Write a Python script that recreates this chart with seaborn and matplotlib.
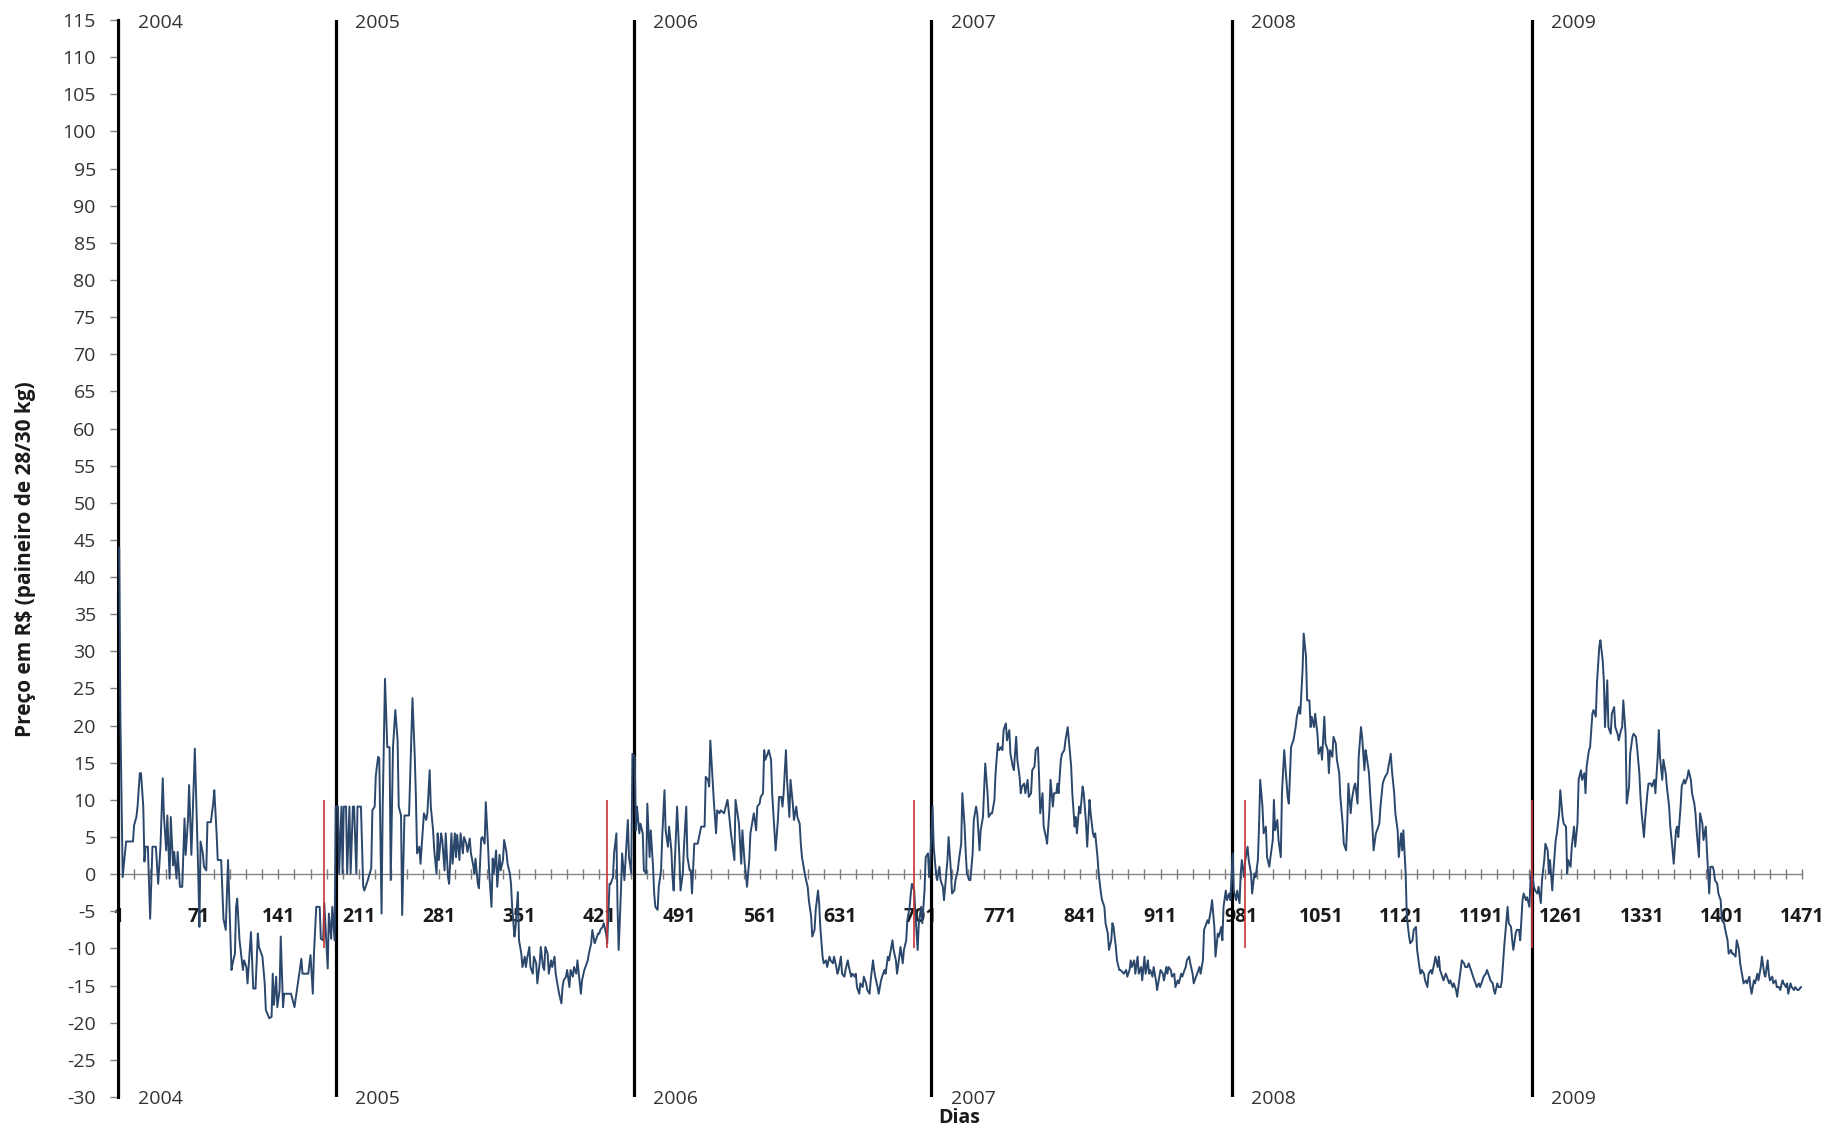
import matplotlib
matplotlib.use("Agg")
import matplotlib.pyplot as plt
import numpy as np
import pandas as pd
import seaborn as sns

# Preço diário (R$ por paineiro de 28/30 kg), pares (dia, preço) por ano
serie_2004 = [
    (2, 44.0), (3, 21.0), (5, -0.4), (8, 4.4), (11, 4.4), (14, 4.4), (15, 6.6), (17, 7.7), (18, 9.1),
    (20, 13.6), (21, 13.6), (23, 9.1), (24, 1.7), (25, 3.7), (27, 3.7), (29, -6.0), (31, 3.7), (34, 3.7),
    (36, -1.3), (38, 3.7), (40, 12.9), (41, 7.9), (43, 3.2), (44, 7.9), (46, -0.6), (47, 7.7), (49, 1.2),
    (50, 3.0), (52, -0.6), (53, 3.0), (55, -1.7), (57, -1.7), (59, 7.5), (60, 2.6), (62, 7.3), (63, 12.0),
    (65, 2.6), (66, 7.3), (68, 16.9), (71, 0.1), (72, -7.1), (73, 4.4), (75, 2.8), (76, 1.0), (78, 0.5),
    (79, 7.0), (82, 7.0), (84, 9.5), (85, 11.3), (87, 5.5), (88, 1.9), (91, 1.9), (93, -6.0), (95, -7.5),
    (97, 1.9), (100, -12.9), (101, -12.0), (103, -10.7), (104, -4.4), (105, -3.3), (107, -8.9), (108, -10.2),
    (110, -12.9), (111, -11.6), (113, -12.5), (114, -14.7), (117, -7.8), (119, -15.4), (121, -15.4),
    (123, -8.0), (124, -9.8), (127, -11.1), (129, -14.7), (130, -18.3), (133, -19.4), (135, -19.2),
    (136, -13.4), (137, -17.6), (139, -13.8), (140, -17.9), (142, -15.6), (143, -8.4), (145, -17.9),
    (146, -16.1), (152, -16.1), (155, -17.9), (158, -14.7), (161, -11.4), (162, -13.4), (167, -13.4),
    (169, -10.9), (171, -16.1), (172, -10.7), (174, -4.4), (177, -4.4), (178, -8.7), (180, -8.9),
    (181, -3.9), (184, -12.7), (185, -5.3), (187, -8.7), (188, -4.4), (190, -8.9),
]
serie_2005 = [
    (191, 9.1), (193, 9.1), (194, 0.1), (196, 9.1), (197, 0.1), (198, 9.1), (200, 9.1), (201, 0.1),
    (203, 9.1), (204, 0.1), (206, 9.1), (207, 9.1), (209, 0.1), (210, 9.1), (212, 9.1), (213, 9.1),
    (215, -1.7), (216, -2.2), (219, -0.8), (222, 0.8), (223, 8.6), (225, 9.1), (226, 13.3), (228, 15.8),
    (229, 15.6), (231, -5.3), (232, 9.1), (234, 26.3), (236, 17.1), (238, 17.1), (239, -0.8), (241, 17.1),
    (243, 22.1), (245, 18.0), (246, 9.1), (248, 7.9), (249, -5.5), (251, 7.9), (255, 7.9), (258, 23.7),
    (260, 15.8), (261, 10.4), (262, 2.8), (264, 3.7), (265, 1.4), (268, 8.2), (270, 7.3), (271, 8.2),
    (273, 14.0), (274, 9.1), (276, 5.9), (277, 3.2), (279, 0.1), (280, 5.5), (281, 1.9), (283, 5.5),
    (284, 4.6), (286, 0.5), (287, 5.5), (289, -0.4), (290, -1.3), (292, 5.5), (293, 1.4), (295, 5.5),
    (296, 2.3), (297, 5.3), (299, 1.9), (300, 5.5), (302, 2.8), (303, 5.0), (305, 4.1), (306, 3.0),
    (308, 4.8), (309, 2.8), (311, 1.2), (312, 0.1), (313, 2.1), (315, -1.3), (316, -1.9), (318, 4.8),
    (319, 5.0), (321, 4.1), (322, 9.7), (324, 3.7), (325, 0.1), (327, -4.4), (328, 2.1), (329, 0.1),
    (331, 3.2), (332, -1.7), (334, 2.6), (335, 0.5), (337, 1.9), (338, 4.6), (340, 3.0), (341, 1.4),
    (343, 0.1), (344, -1.3), (345, -4.4), (347, -8.4), (348, -7.1), (350, -2.4), (351, -8.9), (353, -10.7),
    (354, -12.5), (356, -11.1), (357, -12.5), (358, -11.4), (360, -9.8), (361, -12.5), (363, -13.4),
    (364, -11.1), (366, -12.0), (367, -14.7), (369, -12.0), (370, -9.8), (372, -12.5), (373, -12.9),
    (374, -9.8), (376, -10.7), (377, -13.4), (379, -11.6), (380, -12.5), (382, -11.1), (383, -13.4),
    (385, -15.2), (386, -16.1), (388, -17.4), (389, -15.2), (390, -14.3), (392, -13.8), (393, -12.9),
    (395, -15.2), (396, -12.9), (398, -13.8), (399, -12.5), (401, -13.4), (402, -11.6), (404, -14.7),
    (405, -16.1), (406, -14.3), (408, -12.9), (409, -12.5), (411, -11.6), (412, -10.7), (414, -9.3),
    (415, -7.5), (417, -9.3), (418, -8.9), (420, -8.0), (421, -8.0), (422, -7.5), (424, -7.1), (425, -6.6),
    (427, -8.0), (428, -9.3), (430, -1.3), (431, -1.3), (433, -0.4), (434, 2.8), (436, 5.5), (437, -4.4),
    (438, -10.2), (440, -2.2), (441, 2.8), (443, -0.8), (444, 1.9), (446, 7.3), (447, 2.3), (449, 0.1),
]
serie_2006 = [
    (450, 16.2), (452, 15.8), (453, 5.9), (454, 9.1), (456, 5.5), (457, 6.8), (459, 5.5), (460, 0.5),
    (462, 0.1), (463, 9.5), (465, 2.3), (466, 5.9), (468, 1.0), (469, -2.6), (470, -4.4), (472, -4.8),
    (473, -1.7), (475, 0.5), (476, 5.0), (478, 11.3), (479, 5.9), (481, 3.7), (482, 6.4), (484, 3.2),
    (485, -0.4), (486, -2.2), (488, 5.5), (489, 9.1), (491, 2.3), (492, -2.2), (494, 0.1), (495, 3.7),
    (497, 9.1), (498, 2.3), (500, 0.5), (501, 0.5), (502, -2.6), (504, 4.1), (505, 4.1), (507, 4.1),
    (510, 6.4), (513, 6.4), (514, 13.1), (516, 12.7), (517, 11.8), (518, 18.0), (520, 12.7), (521, 10.0),
    (523, 5.5), (524, 8.6), (526, 8.2), (527, 8.6), (530, 8.2), (533, 10.0), (534, 8.6), (536, 5.5),
    (539, 1.9), (540, 10.0), (543, 6.8), (545, 1.4), (546, 5.9), (548, 1.4), (549, 0.1), (550, -1.7),
    (552, 1.9), (553, 5.5), (555, 7.3), (556, 8.2), (558, 5.9), (559, 9.1), (561, 9.5), (562, 10.4),
    (564, 10.9), (565, 16.7), (566, 15.4), (568, 16.2), (569, 16.7), (571, 15.4), (572, 10.9), (574, 5.9),
    (575, 3.2), (577, 7.3), (578, 10.4), (580, 10.4), (581, 9.1), (582, 10.9), (584, 16.7), (585, 12.7),
    (587, 7.7), (588, 12.7), (590, 9.5), (591, 7.3), (593, 9.1), (594, 7.7), (596, 6.8), (597, 4.1),
    (598, 2.3), (600, 0.5), (601, -0.4), (603, -1.7), (604, -3.5), (606, -5.7), (607, -8.4), (609, -7.5),
    (610, -4.8), (612, -2.2), (613, -3.9), (614, -7.1), (616, -11.1), (617, -12.0), (619, -11.6),
    (620, -12.5), (622, -11.1), (623, -11.6), (625, -12.0), (626, -11.1), (628, -12.5), (629, -13.4),
    (630, -12.9), (632, -11.1), (633, -13.4), (635, -13.8), (636, -12.9), (638, -11.6), (639, -12.5),
    (641, -13.8), (642, -13.4), (644, -13.8), (645, -13.4), (646, -15.2), (648, -16.1), (649, -14.7),
    (651, -15.2), (652, -13.8), (654, -14.7), (655, -15.6), (657, -16.1), (658, -14.3), (660, -11.6),
    (661, -12.9), (662, -13.8), (664, -15.2), (665, -16.1), (667, -14.3), (668, -13.8), (670, -12.9),
    (671, -13.4), (673, -11.1), (674, -11.6), (676, -9.8), (677, -8.9), (678, -10.2), (680, -11.6),
    (681, -13.4), (683, -11.1), (684, -9.8), (686, -12.0), (687, -10.2), (689, -8.9), (690, -6.2),
    (692, -4.4), (693, -2.6), (694, -1.3), (696, -2.2), (697, -5.3), (699, -10.2), (700, -6.6),
    (702, -4.4), (703, -6.6), (705, -2.2), (706, 2.3), (708, 2.8), (709, -0.4), (710, 1.9),
]
serie_2007 = [
    (712, 9.1), (713, 3.7), (715, 0.1), (716, -0.8), (718, 1.0), (719, -0.8), (721, -1.7), (722, -3.5),
    (724, 0.1), (725, 1.9), (726, 5.0), (728, 0.5), (729, -2.6), (731, -2.2), (732, -0.8), (734, 0.5),
    (735, 1.9), (737, 4.1), (738, 10.9), (740, 6.4), (741, 2.8), (742, 0.1), (744, -0.8), (745, -0.8),
    (747, 2.8), (748, 7.3), (750, 9.1), (751, 8.2), (753, 3.2), (754, 5.9), (756, 7.7), (757, 11.3),
    (758, 14.9), (760, 10.9), (761, 7.7), (763, 8.2), (764, 8.2), (766, 10.0), (767, 13.6), (769, 17.6),
    (770, 16.7), (772, 17.1), (773, 16.7), (774, 19.4), (776, 20.3), (777, 18.0), (779, 19.4), (780, 16.2),
    (782, 14.5), (783, 14.0), (785, 18.5), (786, 15.4), (788, 13.1), (789, 10.9), (790, 11.8), (792, 12.2),
    (793, 10.9), (795, 12.7), (796, 10.4), (798, 10.9), (799, 14.0), (801, 14.5), (802, 16.7), (804, 17.1),
    (805, 13.1), (806, 8.2), (808, 10.9), (809, 6.4), (811, 5.0), (812, 4.1), (814, 8.6), (815, 12.7),
    (817, 9.1), (818, 10.9), (820, 10.9), (821, 12.2), (822, 10.9), (824, 15.4), (825, 16.2), (827, 16.7),
    (828, 18.0), (830, 19.8), (831, 18.0), (833, 14.5), (834, 10.9), (836, 6.4), (837, 7.7), (838, 5.5),
    (840, 9.1), (841, 8.2), (843, 11.8), (844, 10.9), (846, 6.8), (847, 3.7), (849, 10.0), (850, 8.2),
    (852, 5.5), (853, 5.0), (854, 5.5), (856, 2.3), (857, 0.1), (859, -2.6), (860, -3.5), (862, -4.4),
    (863, -6.6), (865, -8.0), (866, -10.2), (868, -8.9), (869, -6.6), (870, -7.1), (872, -9.8), (873, -11.6),
    (875, -12.9), (876, -12.9), (878, -13.2), (879, -13.4), (881, -12.9), (882, -13.8), (884, -12.9),
    (885, -11.6), (886, -12.5), (888, -11.6), (889, -13.4), (891, -11.1), (892, -13.4), (894, -12.5),
    (895, -14.3), (897, -11.1), (898, -13.4), (900, -11.6), (901, -13.4), (902, -12.9), (904, -13.8),
    (905, -12.5), (907, -14.3), (908, -15.6), (910, -13.8), (911, -12.9), (913, -13.4), (914, -14.3),
    (916, -12.5), (917, -13.4), (918, -12.5), (920, -12.9), (921, -13.8), (923, -13.4), (924, -15.2),
    (926, -14.3), (927, -14.7), (929, -13.4), (930, -13.8), (932, -12.9), (933, -12.5), (934, -11.6),
    (936, -11.1), (937, -12.0), (939, -13.4), (940, -14.7), (942, -13.8), (943, -13.4), (945, -12.5),
    (946, -13.4), (948, -11.6), (949, -7.5), (950, -7.1), (952, -6.2), (953, -6.6), (955, -4.8), (956, -3.5),
    (958, -7.1), (959, -11.1), (961, -8.0), (962, -8.4), (964, -7.1), (965, -8.9), (966, -4.4), (968, -2.2),
    (969, -3.5), (971, -2.6), (972, -3.5),
]
serie_2008 = [
    (974, 2.8), (975, -2.2), (977, -3.5), (978, -2.2), (980, -3.9), (981, 0.1), (982, 1.9), (984, -0.4),
    (985, 1.9), (987, 3.7), (988, 1.9), (990, 0.1), (991, -2.6), (993, 0.1), (994, -0.4), (996, 1.9),
    (997, 6.4), (998, 12.7), (1000, 9.1), (1001, 5.5), (1003, 6.4), (1004, 2.3), (1006, 1.0), (1007, 2.3),
    (1009, 4.6), (1010, 10.0), (1011, 5.9), (1013, 7.3), (1014, 4.6), (1016, 2.3), (1017, 10.9), (1019, 16.7),
    (1020, 14.5), (1022, 10.4), (1023, 9.5), (1025, 17.1), (1026, 17.6), (1027, 18.0), (1029, 19.8),
    (1030, 21.2), (1032, 22.5), (1033, 21.6), (1035, 27.5), (1036, 32.4), (1038, 29.3), (1039, 23.4),
    (1041, 23.4), (1042, 19.8), (1043, 21.2), (1045, 19.8), (1046, 21.6), (1048, 18.9), (1049, 16.2),
    (1051, 17.1), (1052, 15.4), (1054, 21.2), (1055, 17.6), (1057, 16.7), (1058, 13.6), (1059, 16.7),
    (1061, 15.8), (1062, 18.5), (1064, 17.6), (1065, 15.4), (1067, 13.6), (1068, 10.4), (1070, 6.8),
    (1071, 4.1), (1073, 3.2), (1074, 6.8), (1075, 12.2), (1077, 8.2), (1078, 10.0), (1080, 11.8),
    (1081, 12.2), (1083, 9.5), (1084, 15.8), (1086, 19.8), (1087, 18.5), (1089, 14.0), (1090, 16.7),
    (1091, 15.8), (1093, 13.6), (1094, 10.9), (1096, 6.4), (1097, 3.2), (1099, 5.5), (1100, 5.9),
    (1102, 6.8), (1103, 9.1), (1105, 12.2), (1106, 12.7), (1107, 13.1), (1109, 13.6), (1110, 14.5),
    (1112, 16.2), (1113, 14.0), (1115, 10.9), (1116, 8.2), (1118, 5.9), (1119, 2.3), (1121, 5.5),
    (1122, 3.2), (1123, 5.9), (1125, 0.1), (1126, -5.7), (1128, -8.4), (1129, -9.3), (1131, -8.9),
    (1132, -7.5), (1134, -7.1), (1135, -10.2), (1137, -12.5), (1138, -13.4), (1139, -12.9), (1141, -13.4),
    (1142, -14.3), (1144, -15.2), (1145, -13.4), (1147, -12.9), (1148, -13.4), (1150, -12.0), (1151, -11.1),
    (1153, -12.5), (1154, -11.1), (1155, -12.9), (1157, -13.8), (1158, -14.3), (1160, -13.4), (1161, -13.8),
    (1163, -14.7), (1164, -14.3), (1166, -15.2), (1167, -14.7), (1169, -15.6), (1170, -16.5), (1171, -15.2),
    (1173, -12.9), (1174, -11.6), (1176, -12.0), (1177, -12.5), (1179, -12.5), (1180, -12.0), (1182, -12.9),
    (1183, -13.4), (1185, -14.3), (1186, -14.7), (1187, -15.2), (1189, -14.7), (1190, -15.2), (1192, -14.3),
    (1193, -13.8), (1195, -13.4), (1196, -12.9), (1198, -13.8), (1199, -14.3), (1201, -14.7), (1202, -15.6),
    (1203, -16.1), (1205, -14.7), (1206, -15.2), (1208, -15.2), (1209, -14.3), (1211, -9.8), (1212, -8.0),
    (1214, -4.4), (1215, -6.6), (1217, -7.1), (1218, -8.9), (1219, -10.2), (1221, -8.0), (1222, -7.5),
    (1224, -7.5), (1225, -8.9), (1227, -3.5), (1228, -2.6), (1230, -3.5), (1231, -3.1), (1233, -4.4),
    (1234, -0.8),
]
serie_2009 = [
    (1235, 0.5), (1237, -1.7), (1238, -2.2), (1240, -2.6), (1241, -1.7), (1243, -3.9), (1244, -0.8),
    (1246, 1.9), (1247, 4.1), (1249, 3.2), (1250, 0.1), (1251, 1.9), (1253, -2.2), (1254, 0.5), (1256, 4.6),
    (1257, 5.5), (1259, 8.2), (1260, 11.3), (1262, 7.7), (1263, 6.8), (1265, 6.4), (1266, 0.1), (1267, 1.9),
    (1269, 1.0), (1270, 3.7), (1272, 6.4), (1273, 3.7), (1275, 6.8), (1276, 12.7), (1278, 14.0), (1279, 12.7),
    (1281, 13.6), (1282, 10.9), (1283, 14.5), (1285, 16.7), (1286, 17.1), (1288, 21.6), (1289, 22.1),
    (1291, 21.2), (1292, 25.7), (1294, 30.6), (1295, 31.5), (1297, 28.8), (1298, 26.1), (1299, 19.8),
    (1301, 26.1), (1302, 19.8), (1304, 18.9), (1305, 21.6), (1307, 22.5), (1308, 19.8), (1310, 18.9),
    (1311, 18.0), (1313, 19.4), (1314, 19.8), (1315, 23.4), (1317, 18.9), (1318, 9.5), (1320, 11.8),
    (1321, 16.2), (1323, 18.5), (1324, 18.9), (1326, 18.5), (1327, 17.1), (1329, 13.6), (1330, 10.4),
    (1331, 8.2), (1333, 5.0), (1334, 7.3), (1336, 10.9), (1337, 12.2), (1339, 12.2), (1340, 11.8),
    (1342, 12.7), (1343, 10.9), (1345, 15.8), (1346, 19.4), (1347, 15.8), (1349, 12.7), (1350, 15.4),
    (1352, 13.6), (1353, 11.8), (1355, 9.1), (1356, 6.4), (1358, 3.2), (1359, 1.4), (1361, 5.9), (1362, 6.4),
    (1363, 5.0), (1365, 9.1), (1366, 11.8), (1368, 12.7), (1369, 12.2), (1371, 13.1), (1372, 14.0),
    (1374, 12.7), (1375, 10.9), (1377, 9.5), (1378, 8.2), (1379, 5.9), (1381, 2.3), (1382, 8.2), (1384, 6.8),
    (1385, 4.6), (1387, 6.4), (1388, 3.2), (1390, -2.6), (1391, 1.0), (1393, 1.0), (1394, 0.5), (1395, -0.8),
    (1397, -1.3), (1398, -2.6), (1400, -3.5), (1401, -6.2), (1403, -6.6), (1404, -7.5), (1406, -8.9),
    (1407, -10.7), (1409, -10.2), (1410, -10.7), (1411, -10.7), (1413, -11.1), (1414, -8.9), (1416, -10.2),
    (1417, -12.0), (1419, -13.8), (1420, -14.7), (1422, -14.3), (1423, -14.7), (1425, -13.8), (1426, -15.2),
    (1427, -16.1), (1429, -14.3), (1430, -14.7), (1432, -13.4), (1433, -14.3), (1435, -12.5), (1436, -11.1),
    (1438, -13.4), (1439, -13.8), (1441, -11.6), (1442, -13.4), (1443, -14.3), (1445, -13.8), (1446, -14.7),
    (1448, -14.3), (1449, -15.2), (1451, -15.2), (1452, -15.6), (1454, -14.3), (1455, -14.7), (1457, -15.2),
    (1458, -14.7), (1459, -16.1), (1461, -14.7), (1462, -15.2), (1464, -15.6), (1465, -15.2), (1467, -15.6),
    (1468, -15.6), (1470, -15.2), (1471, -15.2),
]

# Anos, dia em que cada ano começa e marcadores de referência
anos = ["2004", "2005", "2006", "2007", "2008", "2009"]
inicio_ano = [1, 191, 451, 711, 973, 1235]
marcos = [181, 428, 696, 985, 1235]
marco_inf, marco_sup = -10, 10

rotulos_x = [1, 71, 141, 211, 281, 351, 421, 491, 561, 631, 701, 771, 841, 911, 981,
             1051, 1121, 1191, 1261, 1331, 1401, 1471]
marcas_y = list(range(-30, 116, 5))

sns.set_style("white")
plt.rcParams["font.family"] = ["Open Sans", "DejaVu Sans"]

df = pd.DataFrame(serie_2004 + serie_2005 + serie_2006 + serie_2007 + serie_2008 + serie_2009,
                  columns=["dia", "preco"])

fig = plt.figure(figsize=(18.45, 11.30), dpi=100)
ax = fig.add_axes([0.0640, 0.0292, 0.9127, 0.9531])

sns.lineplot(data=df, x="dia", y="preco", ax=ax, color="#2b476c", linewidth=1.4,
             estimator=None, zorder=3.5)

ax.set_xlim(1, 1471)
ax.set_ylim(-30, 115)
ax.set_xlabel("")
ax.set_ylabel("")

# Eixos
for s in ("top", "right"):
    ax.spines[s].set_visible(False)
ax.spines["left"].set_color("black")
ax.spines["left"].set_linewidth(2.2)
ax.spines["bottom"].set_position(("data", 0))
ax.spines["bottom"].set_color("#858585")
ax.spines["bottom"].set_linewidth(1.0)
ax.spines["bottom"].set_zorder(1)

ax.set_yticks(marcas_y)
ax.set_yticklabels([str(v) for v in marcas_y])
ax.tick_params(axis="y", left=True, direction="out", length=6, width=1, color="#808080",
               labelsize=14, labelcolor="#333333", pad=10)

ax.set_xticks(rotulos_x)
ax.set_xticklabels([str(v) for v in rotulos_x], fontweight="bold")
ax.set_xticks(np.arange(1, 1472, 14), minor=True)
ax.tick_params(axis="x", which="both", bottom=True, direction="inout", length=7, width=1.0,
               color="#7a7a7a")
ax.tick_params(axis="x", which="major", labelsize=14, labelcolor="#1a1a1a", pad=20)

# Linhas de início de ano e marcadores
for d in inicio_ano:
    ax.axvline(d, color="black", linewidth=2.3, zorder=3)
ax.vlines(marcos, marco_inf, marco_sup, color="#cc3333", linewidth=1.2, zorder=4)

for d, a in zip(inicio_ano, anos):
    ax.annotate(a, xy=(d, 114.6), xytext=(14, 0), textcoords="offset points",
                ha="left", va="center", fontsize=14, color="#333333", annotation_clip=False)
    ax.annotate(a, xy=(d, -30.3), xytext=(14, 0), textcoords="offset points",
                ha="left", va="center", fontsize=14, color="#333333", annotation_clip=False)

fig.text(26 / 1845, 0.505, "Preço em R\\$ (paineiro de 28/30 kg)", rotation=90,
         ha="center", va="center", fontsize=15, fontweight="bold", color="#1a1a1a")
fig.text(0.52, 0.0106, "Dias", ha="center", va="center", fontsize=14,
         fontweight="bold", color="#1a1a1a")

fig.savefig("out.png", dpi=100, facecolor="white")
